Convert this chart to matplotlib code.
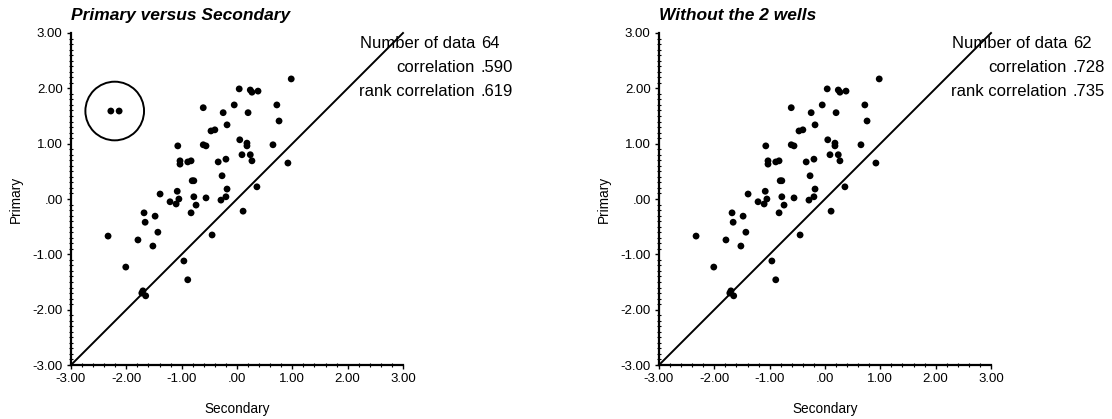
import matplotlib
matplotlib.use("Agg")
import matplotlib.pyplot as plt
from matplotlib.patches import Circle
from matplotlib.ticker import MultipleLocator, FixedLocator

plt.rcParams['font.family'] = ['Liberation Sans', 'DejaVu Sans']

# ---- data (Secondary = x, Primary = y) ----
secondary = [0.98, 0.04, 0.24, 0.27, 0.38, -0.61, -0.05, -0.25, 0.20, 0.72,
             0.76, -0.47, -0.40, -0.18, -1.07, -0.61, -0.56, 0.05, 0.18, 0.18,
             0.65, -1.03, -1.03, -0.89, -0.83, -0.34, -0.20, 0.09, 0.24, 0.27,
             0.92, -0.27, -0.81, -0.78, -1.39, -1.08, -0.18, 0.36, -1.21, -1.10,
             -1.05, -0.78, -0.74, -0.56, -0.29, -0.20, -1.68, -1.48, -1.66, -0.83,
             0.11, -1.43, -2.33, -1.79, -1.52, -0.45, -2.01, -0.96, -0.89, -1.72,
             -1.65, -1.70]
primary = [2.17, 1.99, 1.97, 1.93, 1.95, 1.65, 1.70, 1.56, 1.56, 1.70,
           1.41, 1.23, 1.25, 1.34, 0.96, 0.98, 0.96, 1.07, 1.01, 0.96,
           0.98, 0.69, 0.63, 0.67, 0.69, 0.67, 0.72, 0.80, 0.80, 0.69,
           0.65, 0.42, 0.33, 0.33, 0.09, 0.14, 0.18, 0.22, -0.05, -0.09,
           0.00, 0.04, -0.11, 0.02, -0.02, 0.04, -0.25, -0.31, -0.42, -0.25,
           -0.22, -0.60, -0.67, -0.74, -0.85, -0.65, -1.23, -1.12, -1.46, -1.70,
           -1.75, -1.66]
# the 2 wells (circled outliers)
well_secondary = [-2.28, -2.13]
well_primary = [1.59, 1.59]
well_circle_center = (-2.21, 1.59)
well_circle_radius = 0.53

titles = ["Primary versus Secondary", "Without the 2 wells"]
stat_labels = ["Number of data", "correlation", "rank correlation"]
stats_left = ["64", ".590", ".619"]
stats_right = ["62", ".728", ".735"]
ticks = [-3, -2, -1, 0, 1, 2, 3]
tick_labels = ["-3.00", "-2.00", "-1.00", ".00", "1.00", "2.00", "3.00"]

W, H = 1112, 419
fig = plt.figure(figsize=(W / 100, H / 100), dpi=100)


def make_axes(x0, x1, y_top, y_bot):
    return fig.add_axes([x0 / W, 1 - y_bot / H, (x1 - x0) / W, (y_bot - y_top) / H])


def style(ax, title, stats, text_x):
    ax.set_xlim(-3, 3)
    ax.set_ylim(-3, 3)
    for s in ("top", "right"):
        ax.spines[s].set_visible(False)
    for s in ("left", "bottom"):
        ax.spines[s].set_linewidth(1.6)
    ax.xaxis.set_major_locator(FixedLocator(ticks))
    ax.yaxis.set_major_locator(FixedLocator(ticks))
    ax.set_xticklabels(tick_labels)
    ax.set_yticklabels(tick_labels)
    ax.xaxis.set_minor_locator(MultipleLocator(0.2))
    ax.yaxis.set_minor_locator(MultipleLocator(0.1))
    ax.tick_params(which="major", direction="out", length=3, width=1, labelsize=9.5, pad=3)
    ax.tick_params(which="minor", direction="inout", length=2.5, width=0.8)
    ax.plot([-3, 3], [-3, 3], color="black", lw=1.4, clip_on=False)
    ax.set_xlabel("Secondary", fontsize=9.8, labelpad=12)
    ax.set_ylabel("Primary", fontsize=9.8, labelpad=7)
    ax.text(0.0, 1.03, title, transform=ax.transAxes, fontsize=12.5,
            fontweight="bold", fontstyle="italic", ha="left", va="bottom")
    ys = [43, 67, 91]
    for lab, val, yy in zip(stat_labels, stats, ys):
        fig.text(text_x / W, 1 - yy / H, lab, ha="right", va="center", fontsize=12)
        fig.text((text_x + 6) / W, 1 - yy / H, val, ha="left", va="center", fontsize=12)


axL = make_axes(71, 403, 33, 365)
axL.scatter(secondary + well_secondary, primary + well_primary, s=24, color="black",
            edgecolors="none", zorder=3)
axL.add_patch(Circle(well_circle_center, well_circle_radius, fill=False,
                     edgecolor="black", lw=1.4))
style(axL, titles[0], stats_left, 475)

axR = make_axes(659, 991, 33, 365)
axR.scatter(secondary, primary, s=24, color="black", edgecolors="none", zorder=3)
style(axR, titles[1], stats_right, 1067)

fig.savefig("out.png", dpi=100, facecolor="white")
